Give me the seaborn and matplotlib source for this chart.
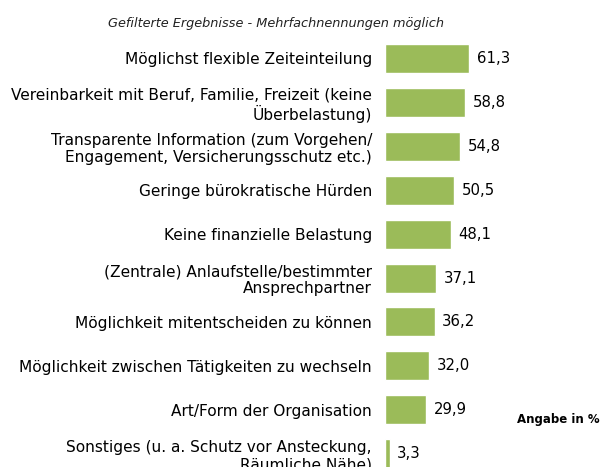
import matplotlib
matplotlib.use("Agg")
import matplotlib.pyplot as plt
import seaborn as sns
import pandas as pd

# -----------------------------
# Data
# -----------------------------
categories = [
    "Möglichst flexible Zeiteinteilung",
    "Vereinbarkeit mit Beruf, Familie, Freizeit (keine\nÜberbelastung)",
    "Transparente Information (zum Vorgehen/\nEngagement, Versicherungsschutz etc.)",
    "Geringe bürokratische Hürden",
    "Keine finanzielle Belastung",
    "(Zentrale) Anlaufstelle/bestimmter\nAnsprechpartner",
    "Möglichkeit mitentscheiden zu können",
    "Möglichkeit zwischen Tätigkeiten zu wechseln",
    "Art/Form der Organisation",
    "Sonstiges (u. a. Schutz vor Ansteckung,\nRäumliche Nähe)",
]
values = [61.3, 58.8, 54.8, 50.5, 48.1, 37.1, 36.2, 32.0, 29.9, 3.3]

title = "Gefilterte Ergebnisse - Mehrfachnennungen möglich"
note = "Angabe in %"

df = pd.DataFrame({"Kategorie": categories, "Wert": values})

# -----------------------------
# Plot
# -----------------------------
sns.set_style("white")
plt.rcParams["font.family"] = ["DejaVu Sans"]

fig = plt.figure(figsize=(6.02, 4.67), dpi=100)
ax = fig.add_axes([385 / 602, 0, 217 / 602, 1])

sns.barplot(data=df, y="Kategorie", x="Wert", orient="h", color="#9BBB59",
            saturation=1, width=0.66, ax=ax)

ax.set_xlim(0, 158.6)
ax.set_ylim(9.30, -1.327)
ax.set_xlabel("")
ax.set_ylabel("")
ax.set_xticks([])
ax.tick_params(axis="y", length=0, pad=9.4, labelsize=11.1, labelcolor="black")
for lbl in ax.get_yticklabels():
    lbl.set_linespacing(1.15)
for s in ax.spines.values():
    s.set_visible(False)

ax.bar_label(ax.containers[0], labels=[f"{v:.1f}".replace(".", ",") for v in values],
             padding=5.5, fontsize=10.7, color="black")

fig.text(276 / 602, 1 - 23 / 467, title, ha="center", va="center",
         style="italic", fontsize=9.3, color="#222222")
fig.text(600 / 602, 1 - 419 / 467, note, ha="right", va="center",
         fontweight="bold", fontsize=8.5, color="black")

fig.savefig("out.png", dpi=100)
